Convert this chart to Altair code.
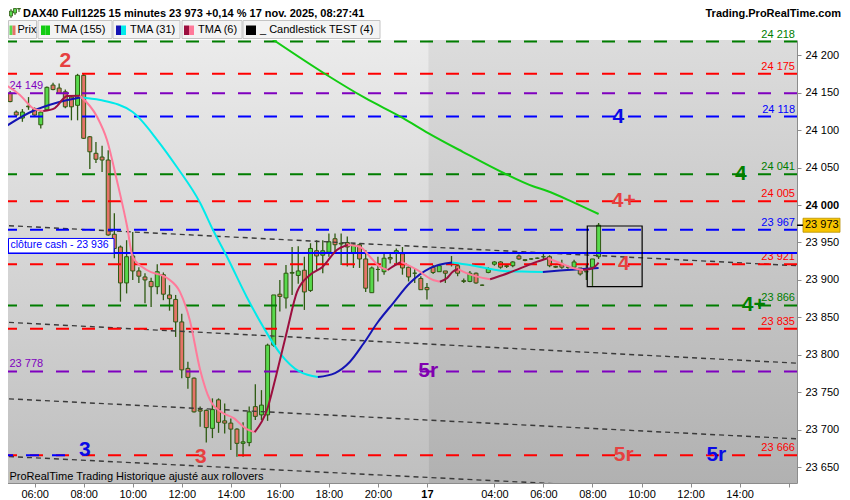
import altair as alt
import pandas as pd

# ---------------- data ----------------
OPEN = [24158, 24149, 24124, 24116, 24132, 24128, 24107, 24127, 24160, 24156,
        24151, 24144, 24133, 24173, 24091, 24069, 24064, 24060, 23961, 23944,
        23896, 23932, 23912, 23904, 23898, 23891, 23907, 23880, 23874, 23844,
        23782, 23769, 23727, 23726, 23702, 23740, 23712, 23709, 23701, 23682,
        23683, 23731, 23720, 23720, 23813, 23881, 23876, 23909, 23906, 23913,
        23886, 23939, 23933, 23937, 23955, 23948, 23950, 23936, 23947, 23928,
        23883, 23914, 23911, 23930, 23936, 23935, 23917, 23909, 23902, 23890,
        23917, 23911, 23912, 23921, 23919, 23899, 23898, 23909, 23893, 23910,
        23921, 23924, 23919, 23919, 23932, 23927, 23928, 23929, 23931, 23931,
        23918, 23921, 23917, 23917, 23916, 23911, 23917, 23931]
HIGH = [24161, 24152, 24126, 24128, 24144, 24130, 24126, 24158, 24163, 24162,
        24154, 24146, 24175, 24176, 24092, 24084, 24079, 24073, 23989, 23946,
        23953, 23964, 23917, 23909, 23903, 23921, 23910, 23893, 23880, 23855,
        23791, 23770, 23731, 23727, 23742, 23742, 23735, 23715, 23702, 23710,
        23731, 23761, 23753, 23815, 23880, 23900, 23920, 23944, 23945, 23931,
        23949, 23953, 23953, 23962, 23962, 23962, 23958, 23949, 23949, 23940,
        23918, 23931, 23936, 23936, 23942, 23944, 23918, 23916, 23905, 23896,
        23920, 23921, 23912, 23932, 23920, 23902, 23912, 23910, 23894, 23917,
        23925, 23925, 23921, 23925, 23934, 23928, 23929, 23930, 23935, 23933,
        23919, 23927, 23919, 23927, 23916, 23920, 23928, 23976]
LOW = [24143, 24137, 24118, 24111, 24127, 24119, 24102, 24126, 24153, 24148,
       24129, 24113, 24113, 24088, 24048, 24056, 24044, 23959, 23929, 23871,
       23882, 23900, 23896, 23869, 23864, 23881, 23873, 23859, 23824, 23769,
       23755, 23723, 23704, 23683, 23689, 23696, 23695, 23673, 23664, 23664,
       23678, 23713, 23713, 23712, 23811, 23858, 23862, 23880, 23895, 23860,
       23884, 23913, 23909, 23931, 23936, 23920, 23918, 23916, 23916, 23884,
       23883, 23898, 23907, 23922, 23922, 23907, 23898, 23896, 23887, 23874,
       23908, 23911, 23896, 23918, 23905, 23896, 23897, 23895, 23892, 23909,
       23919, 23915, 23916, 23917, 23927, 23925, 23927, 23928, 23927, 23917,
       23916, 23915, 23915, 23915, 23906, 23900, 23892, 23928]
CLOSE = [24145, 24138, 24120, 24124, 24131, 24120, 24124, 24157, 24154, 24149,
         24131, 24131, 24173, 24089, 24071, 24061, 24060, 23960, 23942, 23896,
         23931, 23912, 23905, 23900, 23891, 23911, 23881, 23875, 23844, 23780,
         23770, 23724, 23725, 23703, 23727, 23710, 23709, 23701, 23682, 23684,
         23724, 23718, 23733, 23813, 23880, 23878, 23909, 23910, 23912, 23884,
         23942, 23932, 23939, 23951, 23947, 23949, 23944, 23947, 23928, 23889,
         23916, 23914, 23929, 23928, 23939, 23916, 23904, 23909, 23887, 23887,
         23910, 23919, 23909, 23923, 23909, 23898, 23909, 23896, 23893, 23915,
         23924, 23917, 23918, 23924, 23928, 23926, 23928, 23929, 23931, 23919,
         23917, 23917, 23917, 23924, 23908, 23911, 23928, 23973]
BAR = list(range(len(OPEN)))

TMA155_X = [42.0, 43.9, 52.4, 58.9, 65.1, 69.2, 74.9, 81.5, 86.3, 88.5, 92.9, 97.0]
TMA155_Y = [24231, 24220.5, 24174.8, 24142.8, 24116, 24096, 24070.7, 24042.7,
            24025, 24019, 24003.6, 23988]

TMA31_X = [-0.65, 4.7, 8.6, 12.4, 15.7, 21.0, 25.0, 28.2, 32.0, 34.1, 36.4, 39.6,
           42.3, 45.0, 48.3, 51.2, 54.0, 56.4, 58.6, 61.0, 63.5, 66.2, 69.5, 73.1,
           76.0, 81.4, 85.8, 87.9, 90.7, 97.0]
TMA31_Y = [24100, 24125.4, 24136.5, 24143.4, 24140, 24124, 24086.7, 24050.7,
           24002.7, 23966.6, 23930.6, 23877.3, 23837.2, 23802.5, 23777.2, 23770.5,
           23775.8, 23790.5, 23814.5, 23843.9, 23869.2, 23895.9, 23915.9, 23923.3,
           23920, 23912, 23911, 23910.6, 23912.6, 23916]

TMA6_X = [-0.65, 2.6, 4.7, 6.4, 8.3, 10.3, 12.4, 15.2, 16.8, 18.4, 20.1, 21.0,
          23.3, 26.6, 28.7, 30.3, 32.0, 33.6, 35.7, 37.4, 39.6, 40.9, 42.9, 44.5,
          46.2, 47.8, 49.9, 52.0, 54.3, 56.1, 58.1, 59.7, 61.3, 62.6, 64.1, 64.8,
          67.4, 70.0, 71.1, 72.3, 73.2, 74.1, 74.9, 77.2, 79.3, 81.4, 84.2, 87.0,
          88.7, 90.7, 92.8, 94.5, 96.1, 97.0]
TMA6_Y = [24164.5, 24146.8, 24129.4, 24125.4, 24129.4, 24145.4, 24145.6, 24117.4,
          24086.7, 24033.4, 23970.6, 23930.6, 23913.3, 23902.6, 23884, 23846.6,
          23780, 23740, 23722.5, 23716, 23701, 23697, 23726.5, 23776, 23833, 23884,
          23906.6, 23917.7, 23940, 23946.6, 23944, 23931, 23917.7, 23913.3, 23921,
          23924, 23913.3, 23900, 23897.7, 23902.6, 23911, 23914.6, 23911, 23904.4,
          23901, 23906.6, 23915.5, 23924.4, 23929, 23922.6, 23916, 23913.3, 23916,
          23923]

LEVEL_PRICE = [24218, 24175, 24149, 24118, 24041, 24005, 23967, 23921, 23866, 23835, 23778, 23666]
LEVEL_KIND = ["green", "red", "purple", "blue", "green", "red", "blue", "red", "green", "red", "purple", "red"]
LEVEL_LABEL_SIDE = ["right", "right", "left", "right", "right", "right", "right", "right", "right", "right", "left", "right"]
BLUE_STUB = [23666]           # short blue dashed level at the far left
BLUE_STUB_END = [10.1]        # bar index where it stops
CASH_CLOSE = 23936
LAST_PRICE = 23973

TREND_START = [23973, 23844, 23742, 23665]
TREND_END = [23919, 23789, 23688, 23612]

BOX_BARS = [95.15, 104.1]
BOX_PRICES = [23891, 23972]

ANN_TEXT = ["2", "3", "3", "4", "4", "4+", "4", "4+", "5r", "5r", "5r"]
ANN_X = [10.0, 13.2, 32.1, 100.2, 120.2, 101.1, 101.1, 122.3, 69.2, 101.1, 116.2]
ANN_Y = [24192, 23673, 23664, 24118, 24041, 24005, 23921, 23866, 23778, 23666, 23666]
ANN_KIND = ["red", "blue", "red", "blue", "green", "red", "red", "green", "purple", "red", "blue"]

Y_TICKS = [23650, 23700, 23750, 23800, 23850, 23900, 23950, 24000, 24050, 24100, 24150, 24200]
X_TICK_BARS = [5, 13, 21, 29, 37, 45, 53, 61, 69, 80, 88, 96, 104, 112, 120, 128]
X_TICK_LABELS = ["06:00", "08:00", "10:00", "12:00", "14:00", "16:00", "18:00", "20:00", "17",
                 "04:00", "06:00", "08:00", "10:00", "12:00", "14:00", ""]
SESSION_SPLIT = 69.2

TITLE = "DAX40 Full1225 15 minutes 23 973 +0,14 % 17 nov. 2025, 08:27:41"
SITE = "Trading.ProRealTime.com"
LEGEND_NAMES = ["Prix", "TMA (155)", "TMA (31)", "TMA (6)", "_ Candlestick TEST (4)"]
FOOTER = "ProRealTime Trading  Historique ajusté aux rollovers"
CASH_LABEL = "clôture cash -  23 936"

# ---------------- layout & style ----------------
FONT = "Liberation Sans"
PLOT_W, PLOT_H = 797, 443
BAR0_PX, PX_PER_BAR = 4.0, 6.13
REF_PRICE, REF_PX, PX_PER_PT = 24000, 165.0, 0.7495
PLOT_TOP = 40
X_MIN = -BAR0_PX / PX_PER_BAR
X_MAX = (PLOT_W - BAR0_PX) / PX_PER_BAR
Y_MAX = REF_PRICE + REF_PX / PX_PER_PT
Y_MIN = REF_PRICE - (PLOT_H - REF_PX) / PX_PER_PT
LEFT_TXT = 9.5   # first visible page pixel column (page margin is 8px)

LINE_COL = {"green": "#007d00", "red": "#ff0000", "purple": "#7f00bf", "blue": "#0000ff"}
ANN_COL = {"green": "#008000", "red": "#e64040", "purple": "#8000b0", "blue": "#0a0ae6"}
UP_FILL, DN_FILL, OUTLINE = "#58d94c", "#e57368", "#2e5a12"
TMA155_COL = "#12cc12"
TMA31_UP, TMA31_DN = "#1414b4", "#00eaea"
TMA6_UP, TMA6_DN = "#9c0f3f", "#ff7a9a"
BODY_HALF = 0.32

xs = alt.Scale(domain=[X_MIN, X_MAX], nice=False, zero=False)
ys = alt.Scale(domain=[Y_MIN, Y_MAX], nice=False, zero=False)

x_axis = alt.Axis(
    orient="bottom", values=X_TICK_BARS, title=None, grid=False,
    labelExpr="[" + ",".join(f"'{s}'" for s in X_TICK_LABELS) + "][indexof(["
              + ",".join(str(v) for v in X_TICK_BARS) + "], datum.value)]",
    labelFont=FONT, labelFontSize=11, labelColor="#000000", labelPadding=1,
    labelOverlap=False, labelFlush=False,
    labelFontWeight={"condition": {"test": "datum.value == 69", "value": "bold"}, "value": "normal"},
    tickSize=4, tickColor="#8c8c8c", domainColor="#8c8c8c")
y_axis = alt.Axis(
    orient="right", values=Y_TICKS, title=None, grid=False,
    labelExpr="replace(format(datum.value, ','), ',', ' ')",
    labelFont=FONT, labelFontSize=11, labelColor="#000000", labelPadding=4,
    labelOverlap=False, labelFlush=False,
    labelFontWeight={"condition": {"test": "datum.value == 24000", "value": "bold"}, "value": "normal"},
    tickSize=4, tickColor="#8c8c8c", domainColor="#8c8c8c")


def X(field):
    return alt.X(field, type="quantitative", scale=xs, axis=x_axis)


def Y(field):
    return alt.Y(field, type="quantitative", scale=ys, axis=y_axis)


def one():
    return pd.DataFrame({"a": [0]})


def ptext(s, x, page_y, size=11, weight="normal", color="#000000", align="left"):
    return alt.Chart(pd.DataFrame({"t": [s]})).mark_text(
        align=align, baseline="middle", fontSize=size, fontWeight=weight,
        color=color, font=FONT).encode(
        x=alt.value(x), y=alt.value(page_y - PLOT_TOP), text="t:N")


def prect(x1, x2, py1, py2, fill, stroke=None, sw=1.0):
    kw = {"fill": fill}
    if stroke:
        kw["stroke"] = stroke
        kw["strokeWidth"] = sw
    return alt.Chart(one()).mark_rect(**kw).encode(
        x=alt.value(x1), x2=alt.value(x2),
        y=alt.value(py1 - PLOT_TOP), y2=alt.value(py2 - PLOT_TOP))


def grad(c0, c1):
    return alt.LinearGradient(
        gradient="linear",
        stops=[alt.GradientStop(color=c0, offset=0), alt.GradientStop(color=c1, offset=1)],
        x1=0, x2=0, y1=0, y2=1)


def runs(xv, yv, up, dn, name):
    rows = []
    run, prev = 0, None
    for k in range(len(xv) - 1):
        d = yv[k + 1] >= yv[k]
        if prev is not None and d != prev:
            run += 1
        col = up if d else dn
        for j in (k, k + 1):
            rows.append({"x": xv[j], "y": yv[j], "run": f"{name}{run}", "col": col, "ord": j})
        prev = d
    return pd.DataFrame(rows).drop_duplicates(subset=["run", "ord"])


layers = []

# ---- backgrounds ----
bg = pd.DataFrame({"x1": [X_MIN, SESSION_SPLIT], "x2": [SESSION_SPLIT, X_MAX]})
layers.append(alt.Chart(bg.iloc[[0]]).mark_rect(fill=grad("#ebebeb", "#bfbfbf")).encode(
    x=X("x1:Q"), x2="x2:Q", y=alt.value(0), y2=alt.value(PLOT_H)))
layers.append(alt.Chart(bg.iloc[[1]]).mark_rect(fill=grad("#dcdcdc", "#b1b1b1")).encode(
    x=X("x1:Q"), x2="x2:Q", y=alt.value(0), y2=alt.value(PLOT_H)))

# ---- candles ----
cdf = pd.DataFrame({"i": BAR, "o": OPEN, "h": HIGH, "l": LOW, "c": CLOSE})
cdf["x1"] = cdf["i"] - BODY_HALF
cdf["x2"] = cdf["i"] + BODY_HALF
layers.append(alt.Chart(cdf).mark_rule(color=OUTLINE, strokeWidth=1.3).encode(
    x=X("i:Q"), y=Y("l:Q"), y2="h:Q"))
layers.append(alt.Chart(cdf).mark_rect(stroke=OUTLINE, strokeWidth=1).encode(
    x=X("x1:Q"), x2="x2:Q", y=Y("o:Q"), y2="c:Q",
    fill=alt.condition("datum.c >= datum.o", alt.value(UP_FILL), alt.value(DN_FILL))))

# ---- dotted trend lines ----
trows = []
for k, (a, b) in enumerate(zip(TREND_START, TREND_END)):
    trows.append({"x": X_MIN, "y": a, "k": k})
    trows.append({"x": X_MAX, "y": b, "k": k})
layers.append(alt.Chart(pd.DataFrame(trows)).mark_line(
    color="#3a3a3a", strokeWidth=1.4, strokeDash=[5, 4], clip=True).encode(
    x=X("x:Q"), y=Y("y:Q"), detail="k:N"))

# ---- horizontal levels ----
ldf = pd.DataFrame({"p": LEVEL_PRICE, "col": [LINE_COL[k] for k in LEVEL_KIND],
                    "side": LEVEL_LABEL_SIDE})
ldf["lab"] = [f"{p:,}".replace(",", " ") for p in LEVEL_PRICE]
layers.append(alt.Chart(ldf).mark_rule(strokeWidth=2, strokeDash=[13, 13]).encode(
    y=Y("p:Q"), color=alt.Color("col:N", scale=None)))
sdf = pd.DataFrame({"p": BLUE_STUB, "x1": [X_MIN], "x2": BLUE_STUB_END})
layers.append(alt.Chart(sdf).mark_rule(strokeWidth=2, strokeDash=[13, 13], color=LINE_COL["blue"]).encode(
    x=X("x1:Q"), x2="x2:Q", y=Y("p:Q")))

layers.append(alt.Chart(ldf[ldf.side == "right"]).mark_text(
    align="right", baseline="middle", dy=-7, fontSize=11, font=FONT).encode(
    x=alt.value(795), y=Y("p:Q"), text="lab:N", color=alt.Color("col:N", scale=None)))
layers.append(alt.Chart(ldf[ldf.side == "left"]).mark_text(
    align="left", baseline="middle", dy=-7, fontSize=11, font=FONT).encode(
    x=alt.value(LEFT_TXT), y=Y("p:Q"), text="lab:N", color=alt.Color("col:N", scale=None)))

# ---- cash close line + box ----
cdf2 = pd.DataFrame({"p": [CASH_CLOSE], "t": [CASH_LABEL]})
cdf2["top"] = cdf2["p"] + 14.5 / PX_PER_PT
cdf2["mid"] = cdf2["p"] + 7.5 / PX_PER_PT
layers.append(alt.Chart(cdf2).mark_rule(color="#0000ff", strokeWidth=2).encode(y=Y("p:Q")))
layers.append(alt.Chart(cdf2).mark_rect(fill="#ffffff", stroke="#0000ff", strokeWidth=1).encode(
    x=alt.value(8.5), x2=alt.value(114), y=Y("p:Q"), y2="top:Q"))
layers.append(alt.Chart(cdf2).mark_text(align="left", baseline="middle", fontSize=10.5, font=FONT,
                                         color="#0000ff").encode(
    x=alt.value(LEFT_TXT + 1), y=Y("mid:Q"), text="t:N"))

# ---- box of the candlestick test ----
bdf = pd.DataFrame({"x1": [BOX_BARS[0]], "x2": [BOX_BARS[1]], "y1": [BOX_PRICES[0]], "y2": [BOX_PRICES[1]]})
layers.append(alt.Chart(bdf).mark_rect(fillOpacity=0, stroke="#000000", strokeWidth=1.2).encode(
    x=X("x1:Q"), x2="x2:Q", y=Y("y1:Q"), y2="y2:Q"))

# ---- moving averages ----
t155 = pd.DataFrame({"x": TMA155_X, "y": TMA155_Y})
layers.append(alt.Chart(t155).mark_line(color=TMA155_COL, strokeWidth=2, clip=True,
                                        interpolate="monotone").encode(x=X("x:Q"), y=Y("y:Q")))
for df in (runs(TMA31_X, TMA31_Y, TMA31_UP, TMA31_DN, "a"), runs(TMA6_X, TMA6_Y, TMA6_UP, TMA6_DN, "b")):
    layers.append(alt.Chart(df).mark_line(strokeWidth=2, clip=True, interpolate="monotone").encode(
        x=X("x:Q"), y=Y("y:Q"), detail="run:N", order="ord:Q",
        color=alt.Color("col:N", scale=None)))

# ---- annotations ----
adf = pd.DataFrame({"x": ANN_X, "y": ANN_Y, "t": ANN_TEXT, "col": [ANN_COL[k] for k in ANN_KIND]})
layers.append(alt.Chart(adf).mark_text(align="center", baseline="middle", fontSize=21,
                                       fontWeight="bold", font=FONT).encode(
    x=X("x:Q"), y=Y("y:Q"), text="t:N", color=alt.Color("col:N", scale=None)))

# ---- footer ----
layers.append(ptext(FOOTER, LEFT_TXT, 476.5, size=11))

# ---- price tag on the axis ----
tag = pd.DataFrame({"p": [LAST_PRICE], "t": [f"{LAST_PRICE:,}".replace(",", " ")]})
tag["lo"] = tag["p"] - 7 / PX_PER_PT
tag["hi"] = tag["p"] + 7 / PX_PER_PT
layers.append(alt.Chart(tag).mark_rect(fill="#f7c400", stroke="#b88f00", strokeWidth=0.8).encode(
    x=alt.value(803), x2=alt.value(840), y=Y("lo:Q"), y2="hi:Q"))
layers.append(alt.Chart(tag).mark_rule(color="#000000", strokeWidth=1.5).encode(
    x=alt.value(797), x2=alt.value(803), y=Y("p:Q")))
layers.append(alt.Chart(tag).mark_text(align="left", baseline="middle", fontSize=11, font=FONT,
                                       color="#000000").encode(
    x=alt.value(805), y=Y("p:Q"), text="t:N"))

# ---- header ----
for cx, wy1, wy2, by1, by2 in [(11, 9, 18, 11, 16), (15, 6, 15, 8, 13), (19, 3, 12, 5, 9)]:
    layers.append(alt.Chart(one()).mark_rule(color=OUTLINE, strokeWidth=1).encode(
        x=alt.value(cx), y=alt.value(max(wy1, 8.5) - PLOT_TOP), y2=alt.value(wy2 - PLOT_TOP)))
    layers.append(prect(cx - 1.5, cx + 1.5, max(by1, 8.5), by2, UP_FILL, OUTLINE, 0.8))
layers.append(ptext(TITLE, 23, 14, size=11, weight="bold"))
layers.append(ptext(SITE, 841, 14, size=11, weight="bold", align="right"))

LEG_BOX = [(8.5, 36.5), (38, 112), (113, 180), (182, 242), (243, 380)]
LEG_SW = [(9.5, 15.5), (41, 50), (116, 126), (184, 194), (246, 256)]
LEG_TX = [17.5, 54, 130, 198, 260]
LEG_COLS = [(UP_FILL, DN_FILL), (TMA155_COL, TMA155_COL), (TMA31_UP, TMA31_DN),
            (TMA6_UP, TMA6_DN), ("#000000", "#000000")]
for (bx1, bx2), (sx1, sx2), tx, (c1, c2), name in zip(LEG_BOX, LEG_SW, LEG_TX, LEG_COLS, LEGEND_NAMES):
    layers.append(prect(bx1, bx2, 20.5, 38.5, "#f3f3f3", "#c4c4c4", 1))
    mid = (sx1 + sx2) / 2
    layers.append(prect(sx1, mid, 25.5, 35, c1))
    layers.append(prect(mid, sx2, 25.5, 35, c2))
    layers.append(ptext(name, tx, 30, size=11))

# page is 850 wide with an 8px margin each side -> svg 834 wide; left padding -8 puts
# plot x = page x
chart = alt.layer(*layers).properties(
    width=PLOT_W, height=PLOT_H,
    padding={"left": -8, "top": PLOT_TOP - 8, "right": 45, "bottom": 17},
    autosize=alt.AutoSizeParams(type="none"),
    background="#ffffff",
).configure_view(strokeWidth=0)

chart.save("out.html", embed_options={"renderer": "svg", "actions": False})
